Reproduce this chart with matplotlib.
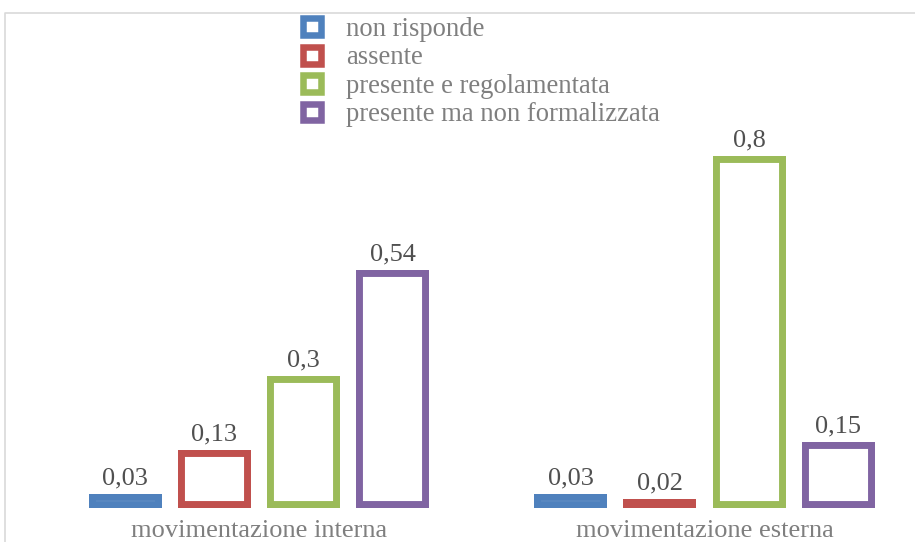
import matplotlib
matplotlib.use("Agg")
import matplotlib.pyplot as plt
from matplotlib.patches import Patch
from matplotlib.lines import Line2D

categories = ["movimentazione interna", "movimentazione esterna"]
series_names = ["non risponde", "assente", "presente e regolamentata",
                "presente ma non formalizzata"]
non_risponde = [0.03, 0.03]
assente = [0.13, 0.02]
regolamentata = [0.3, 0.8]
non_formalizzata = [0.54, 0.15]
series_values = [non_risponde, assente, regolamentata, non_formalizzata]
colors = ["#4F81BD", "#C0504D", "#9BBB59", "#8064A2"]

plt.rcParams["font.family"] = ["Liberation Serif", "DejaVu Serif"]

fig = plt.figure(figsize=(9.15, 5.42), dpi=100)
ax = fig.add_axes([0, 0.0633, 1, 0.8118])
ax.set_xlim(-0.5814, 1.4725)
ax.set_ylim(0, 1)
ax.axis("off")

pitch = 0.2
width = 0.164
for j, (vals, c) in enumerate(zip(series_values, colors)):
    xs = [i + (j - 1.5) * pitch for i in range(len(categories))]
    bars = ax.bar(xs, vals, width=width, facecolor="white", edgecolor=c,
                  linewidth=10)
    for b in bars:
        # keep only the inner half of the stroke
        b.set_clip_path(b)
    for x, v in zip(xs, vals):
        ax.annotate(f"{v:g}".replace(".", ","), xy=(x, v), xytext=(0, 7),
                    textcoords="offset points", ha="center", va="baseline",
                    fontsize=19, color="#505050", annotation_clip=False)

for i, cat in enumerate(categories):
    ax.annotate(cat, xy=(i, 0), xytext=(0, -21), textcoords="offset points",
                ha="center", va="baseline", fontsize=19, color="#7F7F7F",
                annotation_clip=False)

handles = [Patch(facecolor="white", edgecolor=c, linewidth=4.7) for c in colors]
fig.legend(handles, series_names, loc="upper left",
           bbox_to_anchor=(303 / 915, 1 - 17 / 542), frameon=False,
           fontsize=19.2, labelcolor="#7F7F7F", borderpad=0, borderaxespad=0,
           handlelength=0.69, handleheight=0.6, handletextpad=0.92,
           labelspacing=0.13)

# chart area border (left and top visible)
fig.add_artist(Line2D([5 / 915, 5 / 915, 1], [0, 1 - 13.3 / 542, 1 - 13.3 / 542],
                      transform=fig.transFigure, color="#D9D9D9", lw=1.2))

fig.savefig("out.png", dpi=100)
